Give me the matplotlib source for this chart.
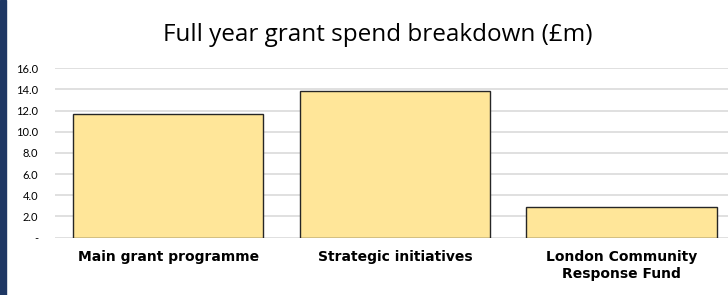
import matplotlib
matplotlib.use("Agg")
import matplotlib.pyplot as plt
from matplotlib.patches import Rectangle

# grant spend by category (GBP m)
categories = ["Main grant programme", "Strategic initiatives", "London Community\nResponse Fund"]
spend = [11.7, 13.9, 2.9]
yticks = [0, 2, 4, 6, 8, 10, 12, 14, 16]
ytick_labels = ["-", "2.0", "4.0", "6.0", "8.0", "10.0", "12.0", "14.0", "16.0"]

fig = plt.figure(figsize=(7.28, 2.95), dpi=100)
ax = fig.add_axes([55 / 728, 1 - 237.5 / 295, 1 - 55 / 728, (237.5 - 68.3) / 295])

x = range(len(categories))
ax.bar(x, spend, width=0.84, color="#FFE699", edgecolor="#262626", linewidth=1.0, zorder=3)

ax.set_xlim(-0.5, 2.47)
ax.set_ylim(0, 16)
ax.set_yticks(yticks)
ax.set_yticklabels(ytick_labels, fontsize=8, family="Lato")
ax.set_xticks(list(x))
ax.set_xticklabels(categories, fontsize=10, fontweight="bold", family="DejaVu Sans", linespacing=1.25)
ax.tick_params(axis="both", length=0)
ax.tick_params(axis="y", pad=12)
ax.tick_params(axis="x", pad=9)
for lab in ax.get_yticklabels():
    lab.set_horizontalalignment("right")

ax.grid(axis="y", color="#DDDDDD", linewidth=1.3, zorder=0)
for s in ax.spines.values():
    s.set_visible(False)

fig.text(378 / 728, 1 - 35 / 295, "Full year grant spend breakdown (\u00a3m)",
         ha="center", va="center", fontsize=17.5, family="Open Sans")

# dark border strip on the left edge
fig.patches.append(Rectangle((0, 0), 6 / 728, 1, transform=fig.transFigure,
                             color="#1F3864", zorder=5))

fig.savefig("out.png", dpi=100)
